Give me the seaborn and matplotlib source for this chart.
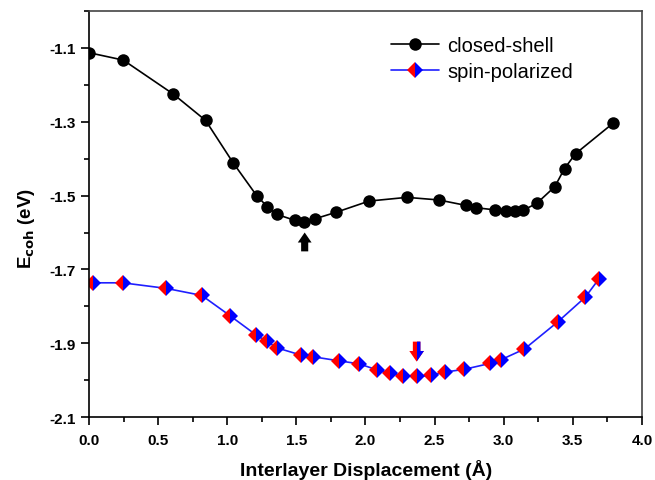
#!/usr/bin/env python3

import pandas as pd
import matplotlib
matplotlib.use("Agg")
import matplotlib.pyplot as plt
import seaborn as sns
from matplotlib.patches import Rectangle
from matplotlib.ticker import MultipleLocator

# Datos
closed_x = [0.0, 0.248, 0.61, 0.843, 1.043, 1.212, 1.289, 1.357, 1.489, 1.557,
            1.634, 1.79, 2.026, 2.30, 2.53, 2.73, 2.80, 2.94, 3.02, 3.08,
            3.14, 3.24, 3.37, 3.44, 3.52, 3.79]
closed_y = [-1.114, -1.134, -1.226, -1.297, -1.412, -1.500, -1.530, -1.551, -1.567, -1.572,
            -1.563, -1.545, -1.515, -1.505, -1.512, -1.527, -1.533, -1.539, -1.543, -1.543,
            -1.540, -1.521, -1.476, -1.427, -1.387, -1.305]

spin_x = [0.031, 0.243, 0.557, 0.815, 1.02, 1.205, 1.284, 1.361, 1.53, 1.622,
          1.81, 1.954, 2.08, 2.176, 2.27, 2.376, 2.477, 2.578, 2.713, 2.90,
          2.98, 3.15, 3.39, 3.59, 3.69]
spin_y = [-1.736, -1.736, -1.751, -1.770, -1.825, -1.876, -1.894, -1.912, -1.931, -1.936,
          -1.947, -1.955, -1.971, -1.981, -1.987, -1.989, -1.986, -1.977, -1.970, -1.954,
          -1.944, -1.915, -1.842, -1.775, -1.725]

x_ticks = [0.0, 0.5, 1.0, 1.5, 2.0, 2.5, 3.0, 3.5, 4.0]
y_ticks = [-2.1, -1.9, -1.7, -1.5, -1.3, -1.1]

ARROW = 'simple,head_width=0.62,head_length=0.45,tail_width=0.32'


def setup_plot_style():
    """Estilo general"""
    sns.set_theme(style='ticks')
    plt.rcParams['font.family'] = ['Liberation Sans', 'DejaVu Sans']
    plt.rcParams['font.size'] = 10
    plt.rcParams['text.color'] = 'black'
    plt.rcParams['axes.labelcolor'] = 'black'
    plt.rcParams['xtick.direction'] = 'out'
    plt.rcParams['ytick.direction'] = 'out'
    plt.rcParams['axes.linewidth'] = 1.2


def main():
    setup_plot_style()

    closed_df = pd.DataFrame({'x': closed_x, 'y': closed_y})
    spin_df = pd.DataFrame({'x': spin_x, 'y': spin_y})

    fig = plt.figure(figsize=(6.55, 4.81), dpi=100)
    ax = fig.add_axes([0.136, 0.130, 0.844, 0.846])

    sns.lineplot(data=closed_df, x='x', y='y', ax=ax, color='black', lw=1.2,
                 marker='o', markersize=9, markeredgewidth=0,
                 estimator=None, sort=False, label='closed-shell')
    sns.lineplot(data=spin_df, x='x', y='y', ax=ax, color='#1f1fff', lw=1.2,
                 marker='D', markersize=8.5, markeredgewidth=0,
                 markerfacecolor='red', markerfacecoloralt='blue', fillstyle='left',
                 estimator=None, sort=False, label='spin-polarized')

    # Flechas que marcan los minimos
    ax.annotate('', xy=(1.56, -1.600), xytext=(1.56, -1.651),
                arrowprops=dict(arrowstyle=ARROW, mutation_scale=16,
                                color='black', lw=0, shrinkA=0, shrinkB=0))
    ax.annotate('', xy=(2.37, -1.949), xytext=(2.37, -1.895),
                arrowprops=dict(arrowstyle=ARROW, mutation_scale=17,
                                color='red', lw=0, shrinkA=0, shrinkB=0))
    blue_arrow = ax.annotate('', xy=(2.37, -1.949), xytext=(2.37, -1.895),
                             arrowprops=dict(arrowstyle=ARROW, mutation_scale=17,
                                             color='blue', lw=0, shrinkA=0, shrinkB=0))
    clip = Rectangle((2.37, -2.0), 0.2, 0.2, transform=ax.transData)
    blue_arrow.arrow_patch.set_clip_path(clip)

    ax.set_xlim(0.0, 4.0)
    ax.set_ylim(-2.1, -1.0)
    ax.set_xticks(x_ticks)
    ax.set_yticks(y_ticks)
    ax.set_xticklabels([f'{t:.1f}' for t in x_ticks], fontweight='bold')
    ax.set_yticklabels([f'{t:.1f}' for t in y_ticks], fontweight='bold')
    ax.xaxis.set_minor_locator(MultipleLocator(0.25))
    ax.yaxis.set_minor_locator(MultipleLocator(0.1))
    ax.tick_params(which='major', length=6, width=1.2, labelsize=11, colors='black')
    ax.tick_params(which='minor', length=3.5, width=1.2, colors='black')
    ax.tick_params(axis='x', pad=5)

    for side in ['top', 'right', 'left', 'bottom']:
        ax.spines[side].set_visible(True)
        ax.spines[side].set_color('black')
    ax.spines['top'].set_color('#444444')
    ax.spines['right'].set_color('#444444')

    ax.set_xlabel('Interlayer Displacement (Å)', fontweight='bold', fontsize=14)
    ax.set_ylabel(r'E$_{\mathbf{coh}}$ (eV)', fontweight='bold', fontsize=13.5)
    ax.xaxis.set_label_coords(0.501, -0.103)
    ax.yaxis.set_label_coords(-0.094, 0.468)

    ax.legend(loc='upper left', bbox_to_anchor=(0.531, 0.958), frameon=False, fontsize=14.5,
              handlelength=2.4, handletextpad=0.4, labelspacing=0.35, borderaxespad=0,
              labelcolor='black')

    fig.savefig('out.png', dpi=100)
    plt.close(fig)


if __name__ == "__main__":
    main()
